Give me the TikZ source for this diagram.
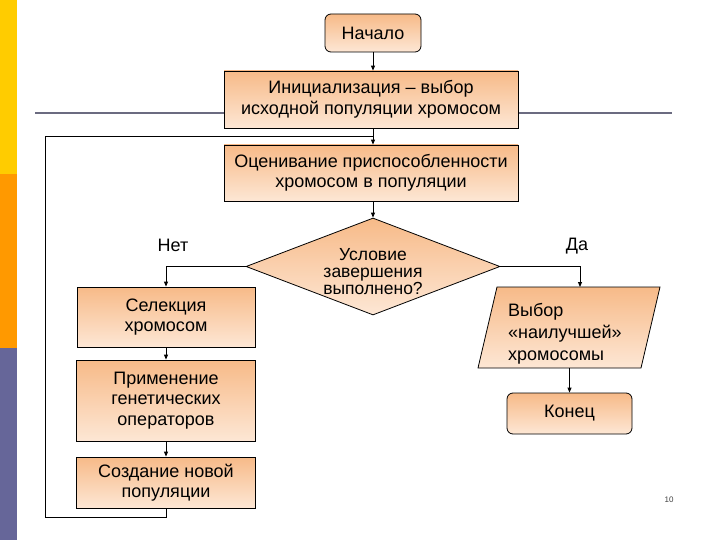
\documentclass[tikz,border=0pt]{standalone}
\usepackage{fontspec}
\setmainfont{Liberation Sans}
\usetikzlibrary{shapes.geometric,arrows.meta}
\definecolor{boxtop}{HTML}{F7BA88}
\definecolor{boxbot}{HTML}{FDE7D5}
\definecolor{barY}{HTML}{FFCC00}
\definecolor{barO}{HTML}{FF9900}
\definecolor{barP}{HTML}{666699}
\definecolor{rule}{HTML}{6B6B80}
\tikzset{
  box/.style={draw=black, line width=0.8pt, top color=boxtop, bottom color=boxbot,
    align=center, font=\fontsize{18}{20.5}\selectfont, inner sep=0pt},
  lbl/.style={font=\fontsize{18}{20.5}\selectfont, inner sep=0pt},
  conn/.style={draw=black, line width=0.9pt},
  arr/.style={conn, -{Triangle[length=5pt,width=4pt]}},
}
\begin{document}
\begin{tikzpicture}[x=1pt,y=-1pt]
\useasboundingbox (0,0) rectangle (720,540);
\fill[white] (0,0) rectangle (720,540);
% side bars
\fill[barY] (0,0) rectangle (17,174);
\fill[barO] (0,174) rectangle (17,348);
\fill[barP] (0,348) rectangle (17,540);
% title rule
\draw[rule, line width=2.5pt] (35,113) -- (672,113);

% nodes
\node[box, rounded corners=6pt, minimum width=96pt, minimum height=38pt] (start) at (373,33) {Начало};
\node[box, minimum width=294pt, minimum height=57pt] (init) at (371,99.5)
  {Инициализация – выбор\\исходной популяции хромосом};
\node[box, minimum width=294pt, minimum height=56pt] (eval) at (371,173)
  {Оценивание приспособленности\\хромосом в популяции};
\node[box, diamond, minimum width=254pt, minimum height=97pt] (cond) at (373,266.5) {};
\node[lbl, align=center, font=\fontsize{17.5}{17}\selectfont] (condtext) at (373,272)
  {Условие\\завершения\\выполнено?};
\node[box, minimum width=178pt, minimum height=60pt] (sel) at (166,317) {Селекция\\хромосом};
\node[box, minimum width=179pt, minimum height=81pt] (apply) at (166,400.5)
  {Применение\\генетических\\операторов};
\node[box, minimum width=179pt, minimum height=51pt] (create) at (166,482.5)
  {Создание новой\\популяции};
% parallelogram
\coordinate (pTL) at (497,287);
\coordinate (pTR) at (660,287);
\coordinate (pBR) at (641,368);
\coordinate (pBL) at (478,368);
\path[box] (pTL) -- (pTR) -- (pBR) -- (pBL) -- cycle;
\coordinate (chooseTop) at (580,287);
\coordinate (chooseBot) at (569.5,368);
\node[lbl, align=left, anchor=west, font=\fontsize{18}{22}\selectfont] (choose) at (508,334)
  {Выбор\\«наилучшей»\\хромосомы};
\node[box, rounded corners=6pt, minimum width=125pt, minimum height=41pt] (end) at (569.5,413.5) {Конец};

\node[lbl] (no) at (173,245) {Нет};
\node[lbl] (yes) at (577,246) {Да};
\node[font=\fontsize{8}{9}\selectfont, text=black!75] (pg) at (669,500) {10};

% connectors
\coordinate (jn) at (373,136);
\coordinate (loopB) at (166,517);
\coordinate (loopL) at (45,136);
\draw[arr] (start.south) -- (start.south |- init.north);
\draw[arr] (start.south |- init.south) -- (start.south |- eval.north);
\draw[conn] (create.south) -- (loopB) -| (loopL) -- (jn);
\draw[arr] (eval.south -| cond.north) -- (cond.north);
\draw[arr] (cond.west) -| (sel.north);
\draw[arr] (sel.south) -- (apply.north);
\draw[arr] (apply.south) -- (create.north);
\draw[arr] (cond.east) -| (chooseTop);
\draw[arr] (chooseBot) -- (end.north);
\end{tikzpicture}
\end{document}
